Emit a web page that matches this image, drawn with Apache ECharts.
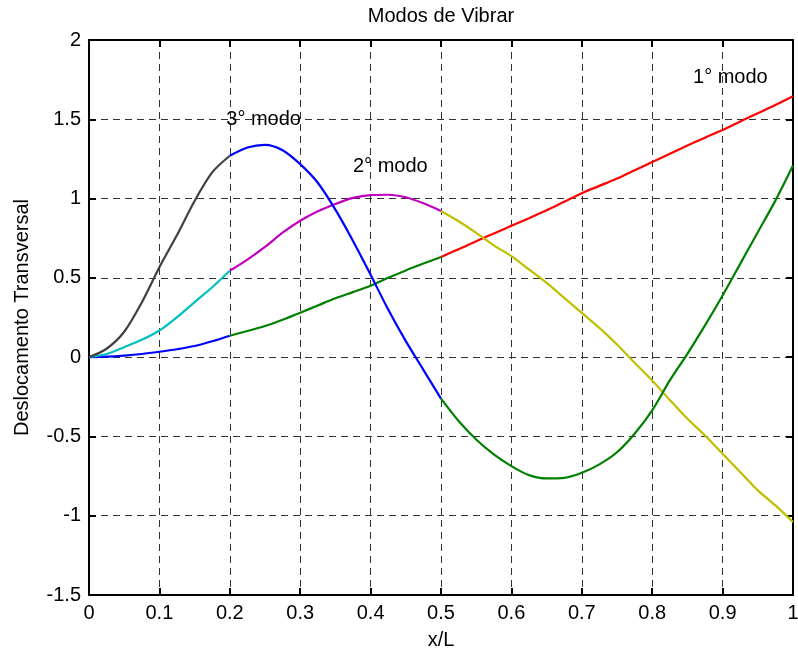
<!DOCTYPE html>
<html>
<head>
<meta charset="utf-8">
<title>Modos de Vibrar</title>
<script src="https://cdn.jsdelivr.net/npm/echarts@6/dist/echarts.min.js"></script>
<style>
  html, body { margin: 0; padding: 0; background: #fff; }
  #chart { width: 798px; height: 652px; }
</style>
</head>
<body>
<div id="chart"></div>
<script>
// Sample positions along the beam (x/L)
const xs = [0, 0.025, 0.05, 0.075, 0.1, 0.125, 0.15, 0.175, 0.2, 0.225, 0.25,
  0.275, 0.3, 0.325, 0.35, 0.375, 0.4, 0.425, 0.45, 0.475, 0.5, 0.525, 0.55,
  0.575, 0.6, 0.625, 0.65, 0.675, 0.7, 0.725, 0.75, 0.775, 0.8, 0.825, 0.85,
  0.875, 0.9, 0.925, 0.95, 0.975, 1];

// Transverse displacement of each mode at the sample positions
const mode1 = [0, 0.003, 0.01, 0.02, 0.034, 0.05, 0.07, 0.1, 0.135, 0.165,
  0.196, 0.236, 0.28, 0.326, 0.372, 0.41, 0.45, 0.5, 0.547, 0.59, 0.632, 0.68,
  0.731, 0.78, 0.828, 0.876, 0.926, 0.98, 1.034, 1.08, 1.126, 1.178, 1.23,
  1.282, 1.334, 1.384, 1.432, 1.486, 1.538, 1.59, 1.645];

const mode2 = [0, 0.02, 0.063, 0.109, 0.168, 0.252, 0.347, 0.441, 0.545, 0.615,
  0.695, 0.785, 0.86, 0.92, 0.966, 1.004, 1.022, 1.024, 1.008, 0.97, 0.922,
  0.857, 0.784, 0.705, 0.637, 0.553, 0.468, 0.374, 0.279, 0.185, 0.08, -0.035,
  -0.147, -0.27, -0.389, -0.494, -0.609, -0.725, -0.84, -0.935, -1.04];

const mode3 = [0, 0.053, 0.16, 0.345, 0.567, 0.77, 0.985, 1.165, 1.27, 1.322,
  1.339, 1.305, 1.217, 1.1, 0.93, 0.733, 0.52, 0.3, 0.101, -0.08, -0.262,
  -0.403, -0.519, -0.613, -0.687, -0.744, -0.765, -0.761, -0.729, -0.676, -0.6,
  -0.483, -0.336, -0.147, 0.021, 0.2, 0.389, 0.588, 0.788, 0.987, 1.208];

// Each mode is drawn in three pieces: [0, 0.2], [0.2, 0.5], [0.5, 1]
const pieceBreaks = [0, 0.2, 0.5, 1];
const modeColors = [
  ['#0000ff', '#008000', '#ff0000'],
  ['#00bfbf', '#bf00bf', '#bfbf00'],
  ['#404040', '#0000ff', '#008000']
];

// Curve labels and where they sit
const labelTexts = ['1° modo', '2° modo', '3° modo'];
const labelX = [0.858, 0.375, 0.195];
const labelY = [1.765, 1.2, 1.5];

const xTicks = { min: 0, max: 1, interval: 0.1 };
const yTicks = { min: -1.5, max: 2, interval: 0.5 };

const FONT = 'Liberation Sans, Arial, Helvetica, sans-serif';
const FS = 20;

function piece(values, from, to) {
  const out = [];
  for (let i = 0; i < xs.length; i++) {
    if (xs[i] >= from - 1e-9 && xs[i] <= to + 1e-9) out.push([xs[i], values[i]]);
  }
  return out;
}

const series = [];
[mode1, mode2, mode3].forEach((vals, m) => {
  for (let p = 0; p < 3; p++) {
    series.push({
      type: 'line',
      data: piece(vals, pieceBreaks[p], pieceBreaks[p + 1]),
      showSymbol: false,
      symbol: 'none',
      smooth: 0.3,
      silent: true,
      lineStyle: { color: modeColors[m][p], width: 2.2 },
      z: 3 + m
    });
  }
});

series.push({
  type: 'scatter',
  symbolSize: 0,
  silent: true,
  itemStyle: { opacity: 1 },
  data: labelX.map((x, i) => ({ value: [x, labelY[i]], name: labelTexts[i] })),
  label: {
    show: true,
    position: 'right',
    distance: 0,
    formatter: p => p.name,
    color: '#000',
    opacity: 1,
    fontFamily: FONT,
    fontSize: FS
  },
  z: 10
});

const frameLine = { show: true, onZero: false, lineStyle: { color: '#000', width: 2 } };
const innerTick = { show: true, inside: true, length: 7, lineStyle: { color: '#000', width: 2 } };
const gridDash = { show: true, lineStyle: { color: '#333', width: 1, type: [7, 5] } };
const tickLabel = { color: '#000', fontFamily: FONT, fontSize: FS };

function fmt(v) {
  return String(Math.round(v * 10) / 10);
}

const chart = echarts.init(document.getElementById('chart'), null, { renderer: 'canvas' });
chart.setOption({
  animation: false,
  backgroundColor: '#fff',
  grid: { left: 89, right: 5, top: 40, bottom: 57, containLabel: false, outerBoundsMode: 'none' },
  graphic: [{
    type: 'text',
    x: 441,
    y: 16,
    style: {
      text: 'Modos de Vibrar',
      fill: '#000',
      font: FS + 'px ' + FONT,
      textAlign: 'center',
      textVerticalAlign: 'middle'
    }
  }],
  xAxis: [{
    type: 'value', position: 'bottom', ...xTicks,
    axisLine: frameLine, axisTick: innerTick, splitLine: gridDash,
    axisLabel: { ...tickLabel, margin: 8, formatter: fmt },
    name: 'x/L', nameLocation: 'middle', nameGap: 35,
    nameTextStyle: { color: '#000', fontFamily: FONT, fontSize: FS }
  }, {
    type: 'value', position: 'top', ...xTicks,
    axisLine: frameLine, axisTick: innerTick, splitLine: { show: false },
    axisLabel: { show: false }
  }],
  yAxis: [{
    type: 'value', position: 'left', ...yTicks,
    axisLine: frameLine, axisTick: innerTick, splitLine: gridDash,
    axisLabel: { ...tickLabel, margin: 8, formatter: fmt },
    name: 'Deslocamento Transversal', nameLocation: 'middle', nameGap: 57,
    nameTextStyle: { color: '#000', fontFamily: FONT, fontSize: FS }
  }, {
    type: 'value', position: 'right', ...yTicks,
    axisLine: frameLine, axisTick: innerTick, splitLine: { show: false },
    axisLabel: { show: false }
  }],
  series: series
});
</script>
</body>
</html>
